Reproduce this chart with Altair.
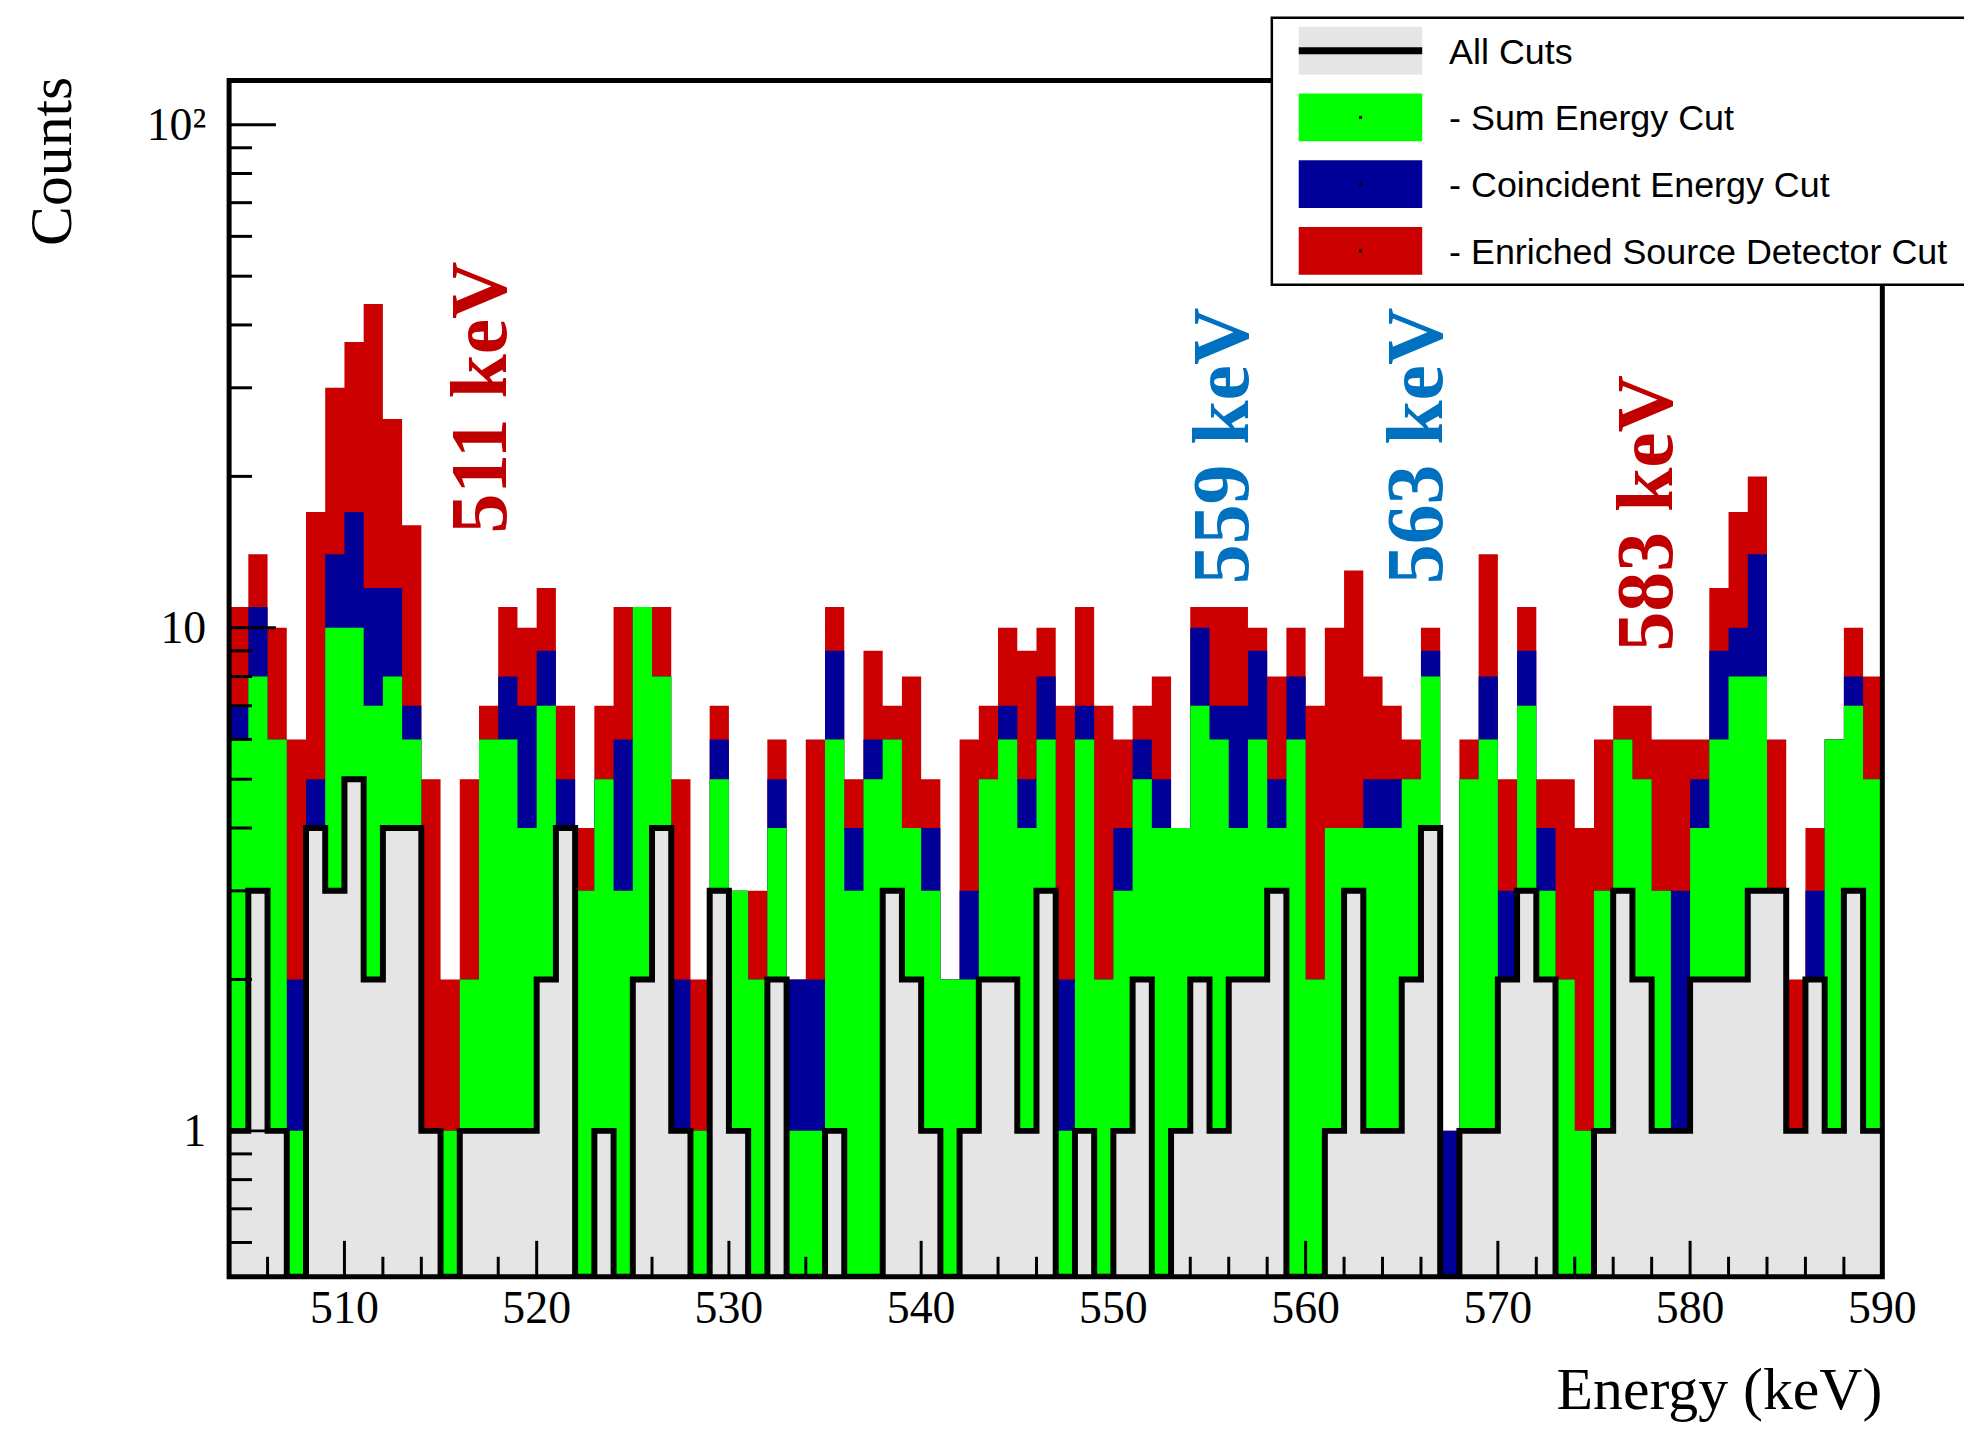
import altair as alt
import pandas as pd

# ---------------- data (1 keV bins, lower edges 504 ... 589) ----------------
bin_low = list(range(504, 590))
x_end = 590

# "- Enriched Source Detector Cut" (red)
enriched = [11, 14, 10, 6, 17, 30, 37, 44, 26, 16,
            5, 2, 5, 7, 11, 10, 12, 7, 4, 7,
            11, 11, 11, 5, 2, 7, 3, 3, 6, 2,
            6, 11, 5, 9, 7, 8, 5, 2, 6, 7,
            10, 9, 10, 7, 11, 7, 6, 7, 8, 4,
            11, 11, 11, 10, 8, 10, 7, 10, 13, 8,
            7, 6, 10, 1, 6, 14, 5, 11, 5, 5,
            4, 6, 7, 7, 6, 6, 6, 12, 17, 20,
            6, 2, 4, 6, 10, 8]
# "- Coincident Energy Cut" (blue)
coincident = [7, 11, 6, 2, 5, 14, 17, 12, 12, 7,
              1, 1, 2, 6, 8, 7, 9, 5, 3, 5,
              6, 11, 8, 2, 1, 6, 3, 2, 5, 2,
              2, 9, 4, 6, 6, 4, 4, 2, 3, 5,
              7, 5, 8, 2, 7, 2, 4, 6, 5, 4,
              10, 7, 7, 9, 5, 8, 2, 4, 4, 5,
              5, 5, 9, 1, 5, 8, 3, 9, 4, 2,
              1, 3, 6, 5, 3, 3, 5, 9, 10, 14,
              3, 1, 3, 6, 8, 5]
# "- Sum Energy Cut" (green)
sum_energy = [6, 8, 6, 1, 4, 10, 10, 7, 8, 6,
              1, 1, 2, 6, 6, 4, 7, 4, 3, 5,
              3, 11, 8, 1, 1, 5, 3, 2, 4, 1,
              1, 6, 3, 5, 6, 4, 3, 2, 2, 5,
              6, 4, 6, 1, 6, 2, 3, 5, 4, 4,
              7, 6, 4, 6, 4, 6, 2, 4, 4, 4,
              4, 5, 8, 0, 5, 6, 2, 7, 3, 2,
              1, 3, 6, 5, 3, 1, 4, 6, 8, 8,
              3, 1, 2, 6, 7, 5]
# "All Cuts" (grey with black outline)
all_cuts = [1, 3, 1, 0, 4, 3, 5, 2, 4, 4,
            1, 0, 1, 1, 1, 1, 2, 4, 0, 1,
            0, 2, 4, 1, 0, 3, 1, 0, 2, 0,
            0, 1, 0, 0, 3, 2, 1, 0, 1, 2,
            2, 1, 3, 0, 1, 0, 1, 2, 0, 1,
            2, 1, 2, 2, 3, 0, 0, 1, 3, 1,
            1, 2, 4, 0, 1, 1, 2, 3, 2, 0,
            0, 1, 3, 2, 1, 1, 2, 2, 2, 3,
            3, 1, 2, 1, 3, 1]

x_major = [510, 520, 530, 540, 550, 560, 570, 580, 590]
x_major_labels = ["510", "520", "530", "540", "550", "560", "570", "580", "590"]
x_minor = [506, 508, 512, 514, 516, 518, 522, 524, 526, 528, 532, 534, 536, 538,
           542, 544, 546, 548, 552, 554, 556, 558, 562, 564, 566, 568, 572, 574,
           576, 578, 582, 584, 586, 588]
y_major = [1, 10, 100]
y_major_labels = ["1", "10", "10²"]
y_minor = [0.6, 0.7, 0.8, 0.9, 2, 3, 4, 5, 6, 7, 8, 9, 20, 30, 40, 50, 60, 70, 80, 90]

peak_labels = ["511 keV", "559 keV", "563 keV", "583 keV"]
peak_x = [517.15, 555.76, 565.85, 577.83]
peak_y = [28.7, 23.0, 23.0, 16.9]
peak_colors = ["#c00000", "#0070c0", "#0070c0", "#c00000"]

legend_labels = ["All Cuts", "- Sum Energy Cut", "- Coincident Energy Cut",
                 "- Enriched Source Detector Cut"]
legend_colors = ["#e5e5e5", "#00ff00", "#000099", "#cc0000"]

RED, BLUE, GREEN, GREY = "#cc0000", "#000099", "#00ff00", "#e5e5e5"

# ---------------- layout ----------------
W, H = 1660, 1201
SERIF = "Liberation Serif"
SANS = "Liberation Sans"

df = pd.DataFrame({
    "e": bin_low + [x_end],
    "R": enriched + [enriched[-1]],
    "B": coincident + [coincident[-1]],
    "G": sum_energy + [sum_energy[-1]],
    "A": all_cuts + [all_cuts[-1]],
})

xscale = alt.Scale(domain=[504, 590], nice=False, zero=False)
yscale = alt.Scale(type="log", domain=[0.513, 122.4], nice=False, clamp=True)


def fill_layer(col, color):
    return alt.Chart(df).transform_calculate(
        v=f"max(datum.{col}, 0.05)"
    ).mark_area(interpolate="step-after", color=color, clip=True).encode(
        x=alt.X("e:Q", scale=xscale, axis=None),
        y=alt.Y("v:Q", scale=yscale, axis=None),
        y2=alt.value(H),
    )


red_fill = fill_layer("R", RED)
blue_fill = fill_layer("B", BLUE)
green_fill = fill_layer("G", GREEN)
grey_fill = fill_layer("A", GREY)

grey_line = alt.Chart(df).transform_calculate(
    v="max(datum.A, 0.05)"
).mark_line(interpolate="step-after", color="black", strokeWidth=6, clip=True).encode(
    x=alt.X("e:Q", scale=xscale, axis=None),
    y=alt.Y("v:Q", scale=yscale, axis=None),
)

# tick marks drawn inside the frame (ROOT style)
xt_major = alt.Chart(pd.DataFrame({"t": x_major})).mark_rule(color="black", strokeWidth=3).encode(
    x=alt.X("t:Q", scale=xscale, axis=None), y=alt.value(H), y2=alt.value(H - 36))
xt_minor = alt.Chart(pd.DataFrame({"t": x_minor})).mark_rule(color="black", strokeWidth=3).encode(
    x=alt.X("t:Q", scale=xscale, axis=None), y=alt.value(H), y2=alt.value(H - 20))
yt_major = alt.Chart(pd.DataFrame({"t": y_major})).mark_rule(color="black", strokeWidth=3).encode(
    y=alt.Y("t:Q", scale=yscale, axis=None), x=alt.value(0), x2=alt.value(47))
yt_minor = alt.Chart(pd.DataFrame({"t": y_minor})).mark_rule(color="black", strokeWidth=3).encode(
    y=alt.Y("t:Q", scale=yscale, axis=None), x=alt.value(0), x2=alt.value(23))

# tick labels
x_labels = alt.Chart(pd.DataFrame({"t": x_major, "lab": x_major_labels})).mark_text(
    align="center", baseline="alphabetic", font=SERIF, fontSize=46, color="black"
).encode(x=alt.X("t:Q", scale=xscale, axis=None), y=alt.value(H + 46), text="lab:N")
y_labels = alt.Chart(pd.DataFrame({"t": y_major, "lab": y_major_labels})).mark_text(
    align="right", baseline="alphabetic", dy=15, font=SERIF, fontSize=46, color="black"
).encode(y=alt.Y("t:Q", scale=yscale, axis=None), x=alt.value(-23), text="lab:N")

one = pd.DataFrame({"k": [0]})
frame = alt.Chart(one).mark_rect(filled=False, stroke="black", strokeWidth=5).encode(
    x=alt.value(0), x2=alt.value(W), y=alt.value(0), y2=alt.value(H))

# peak annotations
ann_df = pd.DataFrame({"label": peak_labels, "x": peak_x, "y": peak_y, "col": peak_colors})
annotations = alt.Chart(ann_df).mark_text(
    angle=270, align="center", baseline="middle", font=SERIF, fontWeight="bold", fontSize=80
).encode(
    x=alt.X("x:Q", scale=xscale, axis=None),
    y=alt.Y("y:Q", scale=yscale, axis=None),
    text="label:N",
    color=alt.Color("col:N", scale=None),
)

# axis titles
y_title = alt.Chart(one).mark_text(
    text="Counts", angle=270, align="right", baseline="middle", font=SERIF, fontSize=60,
    color="black").encode(x=alt.value(-177), y=alt.value(-4))
x_title = alt.Chart(one).mark_text(
    text="Energy (keV)", align="right", baseline="alphabetic", font=SERIF, fontSize=60,
    color="black").encode(x=alt.value(W), y=alt.value(H + 133))

# legend box (ROOT TLegend style)
LX0, LX1, LY0, LY1 = 1047, 1750, -63, 205
SX0, SX1 = 1074, 1198
ROW0, ROWSTEP, SYMH = -54, 67, 48
legend_layers = [
    alt.Chart(one).mark_rect(fill="white", stroke="black", strokeWidth=2.5).encode(
        x=alt.value(LX0), x2=alt.value(LX1), y=alt.value(LY0), y2=alt.value(LY1))
]
for i, (lab, colr) in enumerate(zip(legend_labels, legend_colors)):
    top = ROW0 + ROWSTEP * i
    mid = top + SYMH / 2
    legend_layers.append(alt.Chart(one).mark_rect(fill=colr).encode(
        x=alt.value(SX0), x2=alt.value(SX1), y=alt.value(top), y2=alt.value(top + SYMH)))
    if i == 0:
        legend_layers.append(alt.Chart(one).mark_rule(color="black", strokeWidth=7).encode(
            x=alt.value(SX0), x2=alt.value(SX1), y=alt.value(mid)))
    else:
        legend_layers.append(alt.Chart(one).mark_rect(fill="black").encode(
            x=alt.value((SX0 + SX1) / 2 - 1.5), x2=alt.value((SX0 + SX1) / 2 + 1.5),
            y=alt.value(mid - 1.5), y2=alt.value(mid + 1.5)))
    legend_layers.append(alt.Chart(one).mark_text(
        text=lab, align="left", baseline="middle", font=SANS, fontSize=36, color="black"
    ).encode(x=alt.value(1225), y=alt.value(mid + 2)))

chart = alt.layer(
    red_fill, blue_fill, green_fill, grey_fill, grey_line,
    xt_major, xt_minor, yt_major, yt_minor, frame, x_labels, y_labels, annotations,
    y_title, x_title, *legend_layers
).properties(
    width=W, height=H,
    autosize=alt.AutoSizeParams(type="none"),
    padding={"left": 222, "top": 70, "right": 82, "bottom": 143},
    background="white",
).configure_view(strokeWidth=0)

chart.save("out.html", embed_options={"renderer": "svg", "actions": False})
